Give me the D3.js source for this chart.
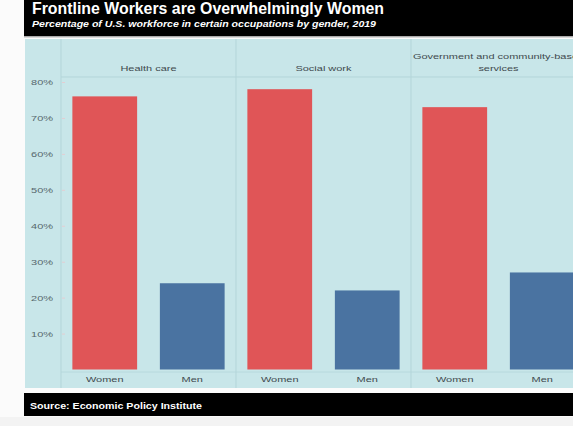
<!DOCTYPE html>
<html>
<head>
<meta charset="utf-8">
<script src="https://cdn.jsdelivr.net/npm/d3@7"></script>
<style>
  html, body { margin: 0; padding: 0; background: #fbfbfb; }
  svg { display: block; }
  text { font-family: "Liberation Sans", Arial, sans-serif; }
</style>
</head>
<body>
<svg id="chart" width="573" height="426"></svg>
<script>
// Occupations (facets), genders and shares of the workforce (%)
const occupations = ["Health care", "Social work", "Government and community-based services"];
const occupationLines = [["Health care"], ["Social work"], ["Government and community-based", "services"]];
const genders = ["Women", "Men"];
const womenShare = [76, 78, 73];
const menShare = [24, 22, 27];
const yTicks = [10, 20, 30, 40, 50, 60, 70, 80];
const titleText = "Frontline Workers are Overwhelmingly Women";
const subtitleText = "Percentage of U.S. workforce in certain occupations by gender, 2019";
const sourceText = "Source: Economic Policy Institute";

const svg = d3.select("#chart");
const W = 573;

const panelLeft = 25, panelTop = 39, panelBottom = 388;
const axisRight = 61, facetWidth = 175;
const headerBottom = 77;
const labelFont = 8, stretch = 1.37;

// Widen small labels horizontally (wide, light lettering)
function widen(sel) {
  sel.each(function () {
    const len = this.getComputedTextLength();
    d3.select(this).attr("textLength", len * stretch).attr("lengthAdjust", "spacingAndGlyphs");
  });
}

// Background panel
svg.append("rect").attr("x", panelLeft).attr("y", panelTop)
  .attr("width", W - panelLeft + 20).attr("height", panelBottom - panelTop)
  .attr("fill", "#c8e6e9");

// Title bar
svg.append("rect").attr("x", 24).attr("y", -2).attr("width", W).attr("height", 38.5).attr("fill", "#000");
svg.append("rect").attr("x", 24).attr("y", 36.5).attr("width", W).attr("height", 1.5).attr("fill", "#d9d9d9");
svg.append("text").attr("x", 32).attr("y", 13.5)
  .attr("fill", "#fff").attr("font-size", 16).attr("font-weight", "bold")
  .attr("textLength", 352).attr("lengthAdjust", "spacingAndGlyphs")
  .text(titleText);
svg.append("text").attr("x", 32).attr("y", 27)
  .attr("fill", "#fff").attr("font-size", 9).attr("font-weight", "bold").attr("font-style", "italic")
  .attr("textLength", 344).attr("lengthAdjust", "spacingAndGlyphs")
  .text(subtitleText);

// Scales
const facetX = d3.scaleBand().domain(occupations)
  .range([axisRight, axisRight + facetWidth * occupations.length]).padding(0);
const barX = d3.scaleBand().domain(genders).range([0, facetWidth])
  .paddingInner(0.26).paddingOuter(0.13);
const y = d3.scaleLinear().domain([0, 80]).range([369.5, 82]);
const color = d3.scaleOrdinal().domain(genders).range(["#e05557", "#4a73a1"]);

// Grid separators
const sepColor = "#b3d5d9";
svg.append("line").attr("x1", axisRight).attr("x2", W).attr("y1", headerBottom).attr("y2", headerBottom)
  .attr("stroke", sepColor).attr("stroke-width", 1);
svg.append("line").attr("x1", axisRight).attr("x2", W).attr("y1", 372).attr("y2", 372)
  .attr("stroke", sepColor).attr("stroke-width", 0.8);
[axisRight, ...occupations.slice(1).map(o => facetX(o))].forEach(xv => {
  svg.append("line").attr("x1", xv).attr("x2", xv).attr("y1", panelTop).attr("y2", panelBottom)
    .attr("stroke", sepColor).attr("stroke-width", 1);
});

// Y axis
const yAxis = d3.axisLeft(y).tickValues(yTicks).tickFormat(d => d + "%").tickSize(3).tickPadding(9);
const yG = svg.append("g").attr("transform", `translate(${axisRight + 4},0)`).call(yAxis);
yG.select(".domain").remove();
yG.selectAll(".tick line").attr("stroke", "#e3cdd2");
yG.selectAll(".tick text").attr("fill", "#56666c").attr("font-size", labelFont)
  .attr("font-family", "\"Liberation Sans\", Arial, sans-serif").call(widen);

// Facets
const rows = occupations.map((o, i) => ({
  occupation: o, lines: occupationLines[i],
  values: [{ gender: "Women", v: womenShare[i] }, { gender: "Men", v: menShare[i] }]
}));

const facets = svg.selectAll("g.facet").data(rows).join("g")
  .attr("class", "facet")
  .attr("transform", d => `translate(${facetX(d.occupation)},0)`);

facets.each(function (d) {
  const g = d3.select(this);
  const n = d.lines.length;
  d.lines.forEach((ln, k) => {
    g.append("text").attr("x", facetX.bandwidth() / 2)
      .attr("y", 71 - (n - 1 - k) * 12)
      .attr("text-anchor", "middle").attr("fill", "#3f4a4e").attr("font-size", labelFont)
      .text(ln).call(widen);
  });
});

facets.selectAll("rect.bar").data(d => d.values).join("rect")
  .attr("class", "bar")
  .attr("x", d => barX(d.gender))
  .attr("width", barX.bandwidth())
  .attr("y", d => y(d.v))
  .attr("height", d => y(0) - y(d.v))
  .attr("fill", d => color(d.gender));

// X axis per facet
facets.each(function () {
  const g = d3.select(this).append("g").attr("transform", `translate(0,${y(0)})`)
    .call(d3.axisBottom(barX).tickSize(0).tickPadding(7));
  g.select(".domain").remove();
  g.selectAll(".tick text").attr("fill", "#3f4a4e").attr("font-size", labelFont)
    .attr("font-family", "\"Liberation Sans\", Arial, sans-serif").call(widen);
});

// Source bar
svg.append("rect").attr("x", 24).attr("y", 393).attr("width", W).attr("height", 23).attr("fill", "#000");
svg.append("text").attr("x", 30).attr("y", 408.5)
  .attr("fill", "#fff").attr("font-size", 9).attr("font-weight", "bold")
  .attr("textLength", 172).attr("lengthAdjust", "spacingAndGlyphs")
  .text(sourceText);
svg.append("rect").attr("x", 0).attr("y", 417).attr("width", W).attr("height", 9).attr("fill", "#f3f3f3");
</script>
</body>
</html>
